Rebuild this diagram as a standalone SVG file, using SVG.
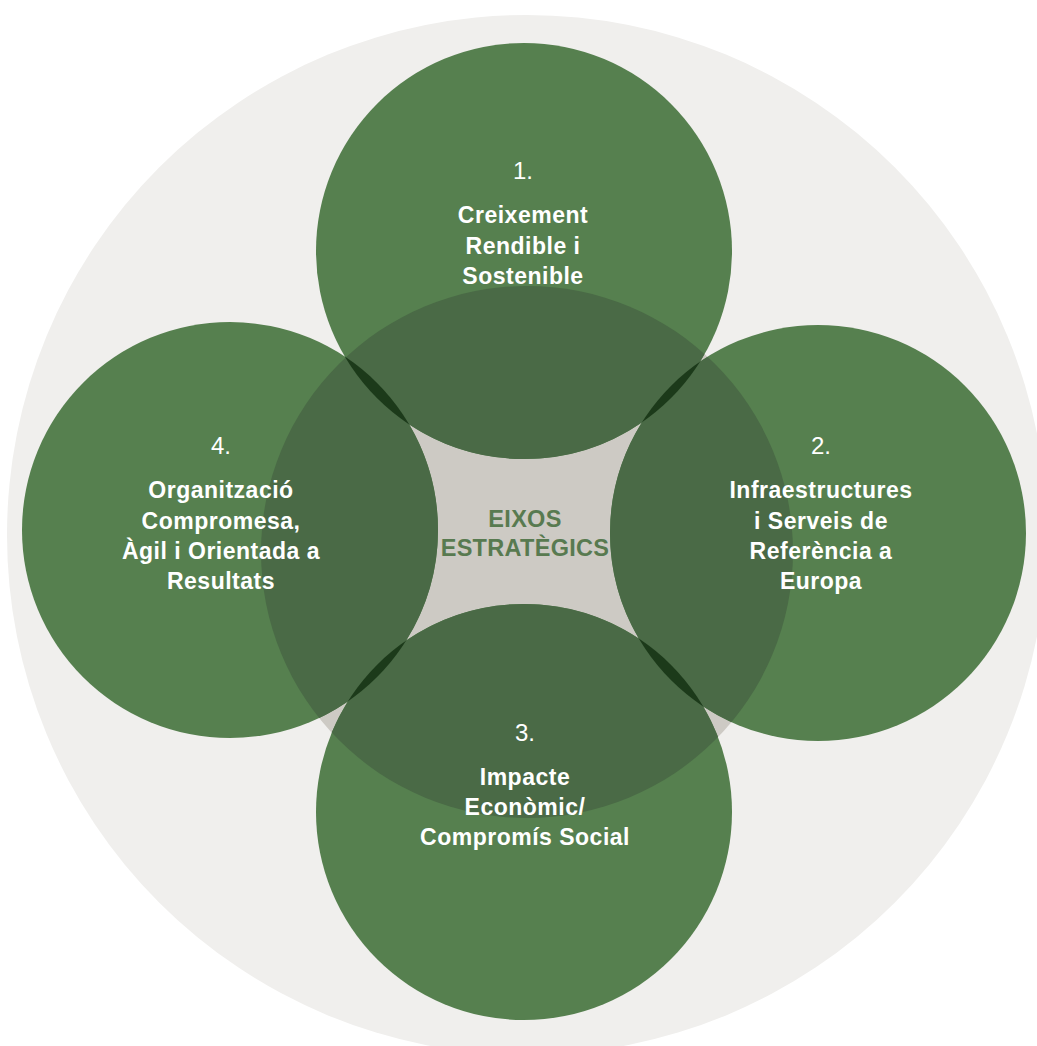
<svg xmlns="http://www.w3.org/2000/svg" width="1037" height="1046" viewBox="0 0 1037 1046">
  <defs>
    <style>
      .bg { fill: #f0efed; }
      .core { fill: #cdcac4; }
      .green { fill: #56804f; }
      .mid { fill: #4a6a46; }
      .lens { fill: #1c3a1a; }
      .num { font-family: "Liberation Sans", Arial, sans-serif; font-size: 24px; fill: #ffffff; text-anchor: middle; }
      .lbl { font-family: "Liberation Sans", Arial, sans-serif; font-size: 23px; font-weight: bold; fill: #ffffff; text-anchor: middle; letter-spacing: 0.5px; }
      .ctr { font-family: "Liberation Sans", Arial, sans-serif; font-size: 23.5px; font-weight: bold; fill: #587a50; text-anchor: middle; letter-spacing: 0.3px; }
    </style>
    <clipPath id="clipGreen">
      <circle cx="524" cy="251" r="208"/>
      <circle cx="818" cy="533" r="208"/>
      <circle cx="524" cy="812" r="208"/>
      <circle cx="230" cy="530" r="208"/>
    </clipPath>
    <clipPath id="clipLeft"><circle cx="230" cy="530" r="208"/></clipPath>
    <clipPath id="clipRight"><circle cx="818" cy="533" r="208"/></clipPath>
  </defs>

  <g id="background">
    <circle class="bg" cx="527" cy="535" r="520"/>
    <circle class="core" cx="527" cy="552" r="266"/>
  </g>

  <g id="circles">
    <circle class="green" cx="524" cy="251" r="208"/>
    <circle class="green" cx="818" cy="533" r="208"/>
    <circle class="green" cx="524" cy="812" r="208"/>
    <circle class="green" cx="230" cy="530" r="208"/>
    <circle class="mid" cx="527" cy="552" r="266" clip-path="url(#clipGreen)"/>
    <circle class="lens" cx="524" cy="251" r="208" clip-path="url(#clipLeft)"/>
    <circle class="lens" cx="524" cy="251" r="208" clip-path="url(#clipRight)"/>
    <circle class="lens" cx="524" cy="812" r="208" clip-path="url(#clipLeft)"/>
    <circle class="lens" cx="524" cy="812" r="208" clip-path="url(#clipRight)"/>
  </g>

  <g id="connectors"></g>

  <g id="node-center">
    <text class="ctr" x="525" y="527">EIXOS</text>
    <text class="ctr" x="525" y="556">ESTRATÈGICS</text>
  </g>

  <g id="node-1">
    <text class="num" x="523" y="179">1.</text>
    <text class="lbl" x="523" y="223">Creixement</text>
    <text class="lbl" x="523" y="254">Rendible i</text>
    <text class="lbl" x="523" y="284">Sostenible</text>
  </g>

  <g id="node-2">
    <text class="num" x="821" y="454">2.</text>
    <text class="lbl" x="821" y="498">Infraestructures</text>
    <text class="lbl" x="821" y="529">i Serveis de</text>
    <text class="lbl" x="821" y="559">Referència a</text>
    <text class="lbl" x="821" y="589">Europa</text>
  </g>

  <g id="node-3">
    <text class="num" x="525" y="741">3.</text>
    <text class="lbl" x="525" y="785">Impacte</text>
    <text class="lbl" x="525" y="815">Econòmic/</text>
    <text class="lbl" x="525" y="845">Compromís Social</text>
  </g>

  <g id="node-4">
    <text class="num" x="221" y="454">4.</text>
    <text class="lbl" x="221" y="498">Organització</text>
    <text class="lbl" x="221" y="529">Compromesa,</text>
    <text class="lbl" x="221" y="559">Àgil i Orientada a</text>
    <text class="lbl" x="221" y="589">Resultats</text>
  </g>
</svg>
